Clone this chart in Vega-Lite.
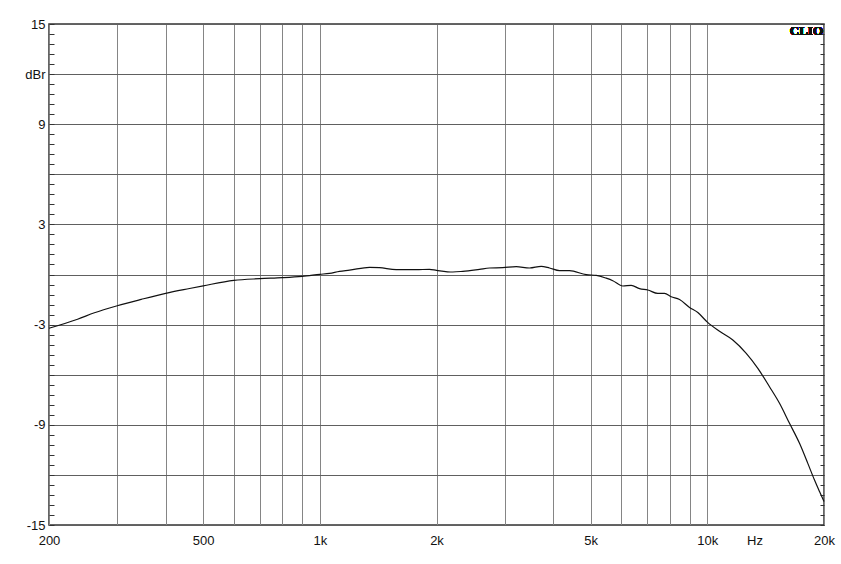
{
  "$schema": "https://vega.github.io/schema/vega-lite/v6.json",
  "width": 775,
  "height": 501,
  "autosize": {"type": "none"},
  "padding": {"left": 49, "top": 24, "right": 17, "bottom": 39},
  "background": "white",
  "config": {
    "view": {"stroke": "#333333", "strokeWidth": 1.5},
    "axis": {"domain": false, "labelFont": "Liberation Sans", "labelFontSize": 13, "labelColor": "#111111"}
  },
  "data": {"values": [
    {"f": 200, "db": -3.22}, {"f": 237, "db": -2.68}, {"f": 262, "db": -2.29}, {"f": 300, "db": -1.87},
    {"f": 346, "db": -1.49}, {"f": 400, "db": -1.13}, {"f": 461, "db": -0.84}, {"f": 500, "db": -0.68},
    {"f": 600, "db": -0.35}, {"f": 700, "db": -0.25}, {"f": 800, "db": -0.19}, {"f": 900, "db": -0.11},
    {"f": 1000, "db": 0.01}, {"f": 1059, "db": 0.07}, {"f": 1124, "db": 0.19}, {"f": 1193, "db": 0.26},
    {"f": 1343, "db": 0.43}, {"f": 1425, "db": 0.41}, {"f": 1574, "db": 0.29}, {"f": 1772, "db": 0.29},
    {"f": 1918, "db": 0.31}, {"f": 2000, "db": 0.25}, {"f": 2204, "db": 0.15}, {"f": 2338, "db": 0.19},
    {"f": 2582, "db": 0.31}, {"f": 2741, "db": 0.39}, {"f": 2966, "db": 0.41}, {"f": 3212, "db": 0.47},
    {"f": 3476, "db": 0.39}, {"f": 3726, "db": 0.49}, {"f": 3914, "db": 0.39}, {"f": 4155, "db": 0.23},
    {"f": 4409, "db": 0.23}, {"f": 4868, "db": -0.01}, {"f": 5168, "db": -0.05}, {"f": 5483, "db": -0.22},
    {"f": 5702, "db": -0.37}, {"f": 6052, "db": -0.69}, {"f": 6361, "db": -0.65}, {"f": 6683, "db": -0.85},
    {"f": 7021, "db": -0.93}, {"f": 7450, "db": -1.13}, {"f": 7753, "db": -1.13}, {"f": 8068, "db": -1.33},
    {"f": 8477, "db": -1.5}, {"f": 8997, "db": -1.97}, {"f": 9450, "db": -2.28}, {"f": 10000, "db": -2.85},
    {"f": 10750, "db": -3.4}, {"f": 11634, "db": -3.92}, {"f": 12600, "db": -4.72}, {"f": 13500, "db": -5.62},
    {"f": 14468, "db": -6.72}, {"f": 15354, "db": -7.71}, {"f": 16293, "db": -8.91}, {"f": 17292, "db": -10.11},
    {"f": 18166, "db": -11.31}, {"f": 18904, "db": -12.31}, {"f": 19474, "db": -13.0}, {"f": 20000, "db": -13.6}
  ]},
  "encoding": {
    "x": {
      "field": "f", "type": "quantitative",
      "scale": {"type": "log", "domain": [200, 20000], "nice": false},
      "axis": {
        "title": null,
        "values": [200, 300, 400, 500, 600, 700, 800, 900, 1000, 2000, 3000, 4000, 5000, 6000, 7000, 8000, 9000, 10000, 13234, 20000],
        "labelExpr": "datum.value == 200 ? '200' : datum.value == 500 ? '500' : datum.value == 1000 ? '1k' : datum.value == 2000 ? '2k' : datum.value == 5000 ? '5k' : datum.value == 10000 ? '10k' : datum.value == 13234 ? 'Hz' : datum.value == 20000 ? '20k' : ''",
        "ticks": false,
        "labelPadding": 9,
        "labelFlush": false,
        "labelOverlap": false,
        "grid": true,
        "gridColor": "#858585",
        "gridWidth": 1,
        "gridOpacity": {"condition": {"test": "datum.value == 13234", "value": 0}, "value": 1}
      }
    }
  },
  "layer": [
    {
      "mark": {"type": "line", "color": "#111111", "strokeWidth": 1.2, "interpolate": "monotone"},
      "encoding": {
        "y": {
          "field": "db", "type": "quantitative",
          "scale": {"domain": [-15, 15], "nice": false},
          "axis": {
            "orient": "left",
            "title": null,
            "values": [-15, -12, -9, -6, -3, 0, 3, 6, 9, 12, 15],
            "labelExpr": "datum.value == 12 ? 'dBr' : datum.value == 15 ? '15' : datum.value == 9 ? '9' : datum.value == 3 ? '3' : datum.value == -3 ? '-3' : datum.value == -9 ? '-9' : datum.value == -15 ? '-15' : ''",
            "ticks": false,
            "labelPadding": 4,
            "labelOverlap": false,
            "labelFlush": false,
            "grid": true,
            "gridColor": "#606060",
            "gridWidth": 1
          }
        }
      }
    },
    {
      "mark": {"type": "text", "text": ""},
      "encoding": {
        "y": {
          "datum": 0, "type": "quantitative",
          "axis": {
            "orient": "left",
            "offset": -5,
            "title": null,
            "values": [-15, -14.4, -13.8, -13.2, -12.6, -12, -11.4, -10.8, -10.2, -9.6, -9, -8.4, -7.8, -7.2, -6.6, -6, -5.4, -4.8, -4.2, -3.6, -3, -2.4, -1.8, -1.2, -0.6, 0, 0.6, 1.2, 1.8, 2.4, 3, 3.6, 4.2, 4.8, 5.4, 6, 6.6, 7.2, 7.8, 8.4, 9, 9.6, 10.2, 10.8, 11.4, 12, 12.6, 13.2, 13.8, 14.4, 15],
            "labelExpr": "''",
            "grid": false,
            "ticks": true,
            "tickSize": 5,
            "tickColor": "#333333",
            "tickWidth": 1
          }
        }
      }
    },
    {
      "mark": {"type": "text", "text": ""},
      "encoding": {
        "y": {
          "datum": 0, "type": "quantitative",
          "axis": {
            "orient": "right",
            "offset": -4,
            "title": null,
            "values": [-15, -14.4, -13.8, -13.2, -12.6, -12, -11.4, -10.8, -10.2, -9.6, -9, -8.4, -7.8, -7.2, -6.6, -6, -5.4, -4.8, -4.2, -3.6, -3, -2.4, -1.8, -1.2, -0.6, 0, 0.6, 1.2, 1.8, 2.4, 3, 3.6, 4.2, 4.8, 5.4, 6, 6.6, 7.2, 7.8, 8.4, 9, 9.6, 10.2, 10.8, 11.4, 12, 12.6, 13.2, 13.8, 14.4, 15],
            "labelExpr": "''",
            "grid": false,
            "ticks": true,
            "tickSize": 4,
            "tickColor": "#333333",
            "tickWidth": 1
          }
        }
      }
    },
    {
      "mark": {"type": "text", "text": "CLIO", "font": "Liberation Serif", "fontWeight": "bold", "fontSize": 13, "align": "right", "baseline": "top", "dx": -1, "dy": 1, "color": "#111111"},
      "encoding": {
        "x": {"datum": 20000},
        "y": {"datum": 15, "axis": null}
      }
    }
  ],
  "resolve": {"axis": {"y": "independent"}}
}
